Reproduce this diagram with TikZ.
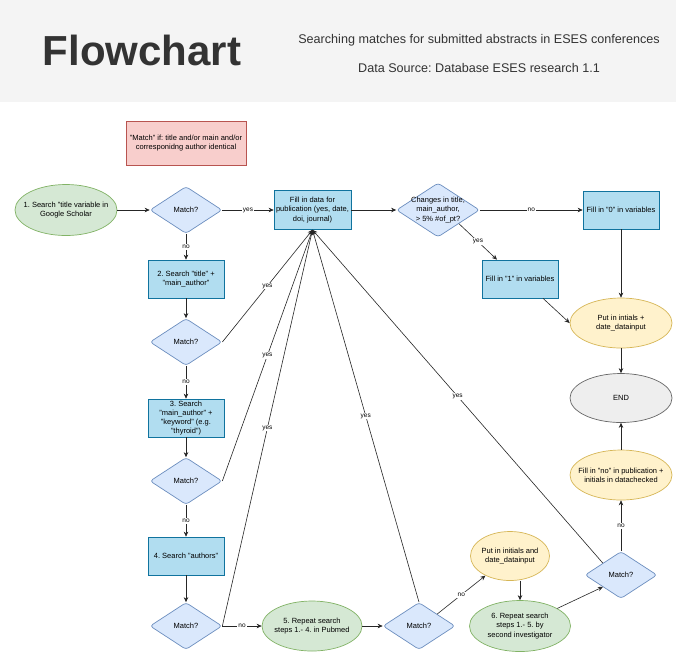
\documentclass[tikz,border=0pt]{standalone}
\usepackage{fontspec}
\setmainfont{Liberation Sans}
\usepackage{tikz}
\usetikzlibrary{arrows.meta,positioning,shapes.geometric,calc}
\frenchspacing

\definecolor{hdrgray}{HTML}{F4F4F4}
\definecolor{hdrtext}{HTML}{333333}
\definecolor{boxblue}{HTML}{B1DDF0}
\definecolor{boxblueline}{HTML}{10739E}
\definecolor{dmdblue}{HTML}{DAE8FC}
\definecolor{dmdline}{HTML}{6C8EBF}
\definecolor{ellgreen}{HTML}{D5E8D4}
\definecolor{ellgreenline}{HTML}{82B366}
\definecolor{ellyellow}{HTML}{FFF2CC}
\definecolor{ellyellowline}{HTML}{D6B656}
\definecolor{notepink}{HTML}{F8CECC}
\definecolor{notepinkline}{HTML}{B85450}
\definecolor{endgray}{HTML}{EEEEEE}
\definecolor{endgrayline}{HTML}{666666}

\begin{document}
\begin{tikzpicture}[x=1pt, y=-1pt,
      >={Stealth[length=5pt,width=4.5pt]},
      font=\fontsize{7.5}{9.3}\selectfont,
      on grid,
      procbox/.style={rectangle, draw=boxblueline, line width=0.7pt, fill=boxblue,
          minimum width=76pt, minimum height=38pt, align=center, inner sep=1pt},
      decide/.style={diamond, draw=dmdline, line width=0.7pt, fill=dmdblue,
          rounded corners=3pt, minimum width=72pt, minimum height=47pt,
          inner sep=0pt, align=center},
      ellbase/.style={ellipse, line width=0.7pt, align=center,
          inner xsep=-10pt, inner ysep=0pt},
      greenell/.style={ellbase, draw=ellgreenline, fill=ellgreen,
          minimum width=101pt, minimum height=51pt},
      yellowell/.style={ellbase, draw=ellyellowline, fill=ellyellow,
          minimum width=102pt, minimum height=50pt},
      grayell/.style={ellbase, draw=endgrayline, fill=endgray,
          minimum width=102pt, minimum height=49pt},
      notebox/.style={rectangle, draw=notepinkline, line width=0.7pt, fill=notepink,
          minimum width=120pt, minimum height=44pt, align=center},
      dmdtext/.style={align=center, inner sep=0pt},
      flow/.style={->, line width=0.6pt, draw=black!85},
      arrlbl/.style={font=\fontsize{6.5}{7}\selectfont, fill=white, inner sep=1pt, midway}
  ]
  \useasboundingbox (0,0) rectangle (676,657);
  \fill[white] (0,0) rectangle (676,657);
  \fill[hdrgray] (0,0) rectangle (676,102);
  \node[font=\fontsize{42}{42}\selectfont\bfseries, text=hdrtext] (title) at (142,50) {Flowchart};
  \node[font=\fontsize{12.6}{14}\selectfont, text=hdrtext] (sub1) at (479,40)
      {Searching matches for submitted abstracts in ESES conferences};
  \node[font=\fontsize{12.6}{14}\selectfont, text=hdrtext] (sub2) at (479,68)
      {Data Source: Database ESES research 1.1};

  \node[greenell, minimum width=102pt] (start) at (66,210)
      {1. Search "title variable in\\Google Scholar};
  \node[decide, right=120pt of start] (d1) {Match?};
  \node[notebox, above=67pt of d1] (note)
      {"Match" if: title and/or main and/or\\corresponidng author identical};
  \node[procbox, minimum width=77pt, minimum height=39pt, right=126.5pt of d1] (fill)
      {Fill in data for\\publication (yes, date,\\doi, journal)};
  \node[decide, minimum width=83pt, minimum height=54pt, right=125.5pt of fill,
        label={[dmdtext]center:{Changes in title,\\main\_author,\\> 5\% \#of\_pt?}}] (chg) {};
  \node[procbox, right=183pt of chg] (fill0) {Fill in "0" in variables};
  \node[procbox, below right=69pt and 82pt of chg] (fill1) {Fill in "1" in variables};
  \node[yellowell, below=113pt of fill0] (put1) {Put in intials +\\date\_datainput};
  \node[grayell, below=75pt of put1] (endn) {END};
  \node[yellowell, below=77pt of endn] (fillno) {Fill in "no" in publication +\\initials in datachecked};
  \node[decide, below=100pt of fillno] (d6) {Match?};

  \node[procbox, below=69pt of d1] (s2) {2. Search "title" +\\"main\_author"};
  \node[decide, below=63pt of s2] (d2) {Match?};
  \node[procbox, below=76pt of d2] (s3) {3. Search\\"main\_author" +\\"keyword" (e.g.\\"thyroid")};
  \node[decide, below=63pt of s3] (d3) {Match?};
  \node[procbox, below=75pt of d3] (s4) {4. Search "authors"};
  \node[decide, below=70pt of s4] (d4) {Match?};
  \node[greenell, minimum width=100pt, minimum height=50pt, right=126pt of d4] (s5)
      {5. Repeat search\\steps 1.- 4. in Pubmed};
  \node[decide, right=107pt of s5] (d5) {Match?};
  \node[greenell, right=101pt of d5] (s6) {6. Repeat search\\steps 1.- 5. by\\second investigator};
  \node[yellowell, minimum width=79pt, minimum height=49pt, above left=70pt and 10pt of s6] (put2)
      {Put in initials and\\date\_datainput};

  \coordinate (d5ne) at ($(d5.north)!0.5!(d5.east)$);
  \coordinate (d6sw) at ($(d6.south)!0.5!(d6.west)$);
  \coordinate (d6nw) at ($(d6.north)!0.5!(d6.west)$);
  \coordinate (chgse) at ($(chg.south)!0.5!(chg.east)$);

  \draw[flow] (start) -- (d1);
  \draw[flow] (d1) -- node[arrlbl] {yes} (fill);
  \draw[flow] (d1) -- node[arrlbl] {no} (s2);
  \draw[flow] (s2) -- (d2);
  \draw[flow] (d2) -- node[arrlbl] {no} (s3);
  \draw[flow] (s3) -- (d3);
  \draw[flow] (d3) -- node[arrlbl] {no} (s4);
  \draw[flow] (s4) -- (d4);
  \draw[flow] (d4) -- node[arrlbl] {no} (s5);
  \draw[flow] (s5) -- (d5);
  \draw[flow] (d5ne) -- node[arrlbl] {no} (put2);
  \draw[flow] (put2.south -| s6.north) -- (s6.north);
  \draw[flow] (s6) -- (d6sw);
  \draw[flow] (d6) -- node[arrlbl] {no} (fillno);
  \draw[flow] (fillno) -- (endn);
  \draw[flow] (put1) -- (endn);
  \draw[flow] (fill0) -- (put1);
  \draw[flow] ([xshift=23pt]fill1.south) -- (put1.west);
  \draw[flow] (fill) -- (chg);
  \draw[flow] (chg) -- node[arrlbl] {no} (fill0);
  \draw[flow] (chgse) -- node[arrlbl] {yes} ([xshift=-23pt]fill1.north);

  \draw[flow] (d2.east) -- node[arrlbl] {yes} (fill.south);
  \draw[flow] (d3.east) -- node[arrlbl] {yes} (fill.south);
  \draw[flow] (d4.east) -- node[arrlbl] {yes} (fill.south);
  \draw[flow] (d5.north) -- node[arrlbl] {yes} (fill.south);
  \draw[flow] (d6nw) -- node[arrlbl] {yes} (fill.south);
  \end{tikzpicture}
\end{document}
